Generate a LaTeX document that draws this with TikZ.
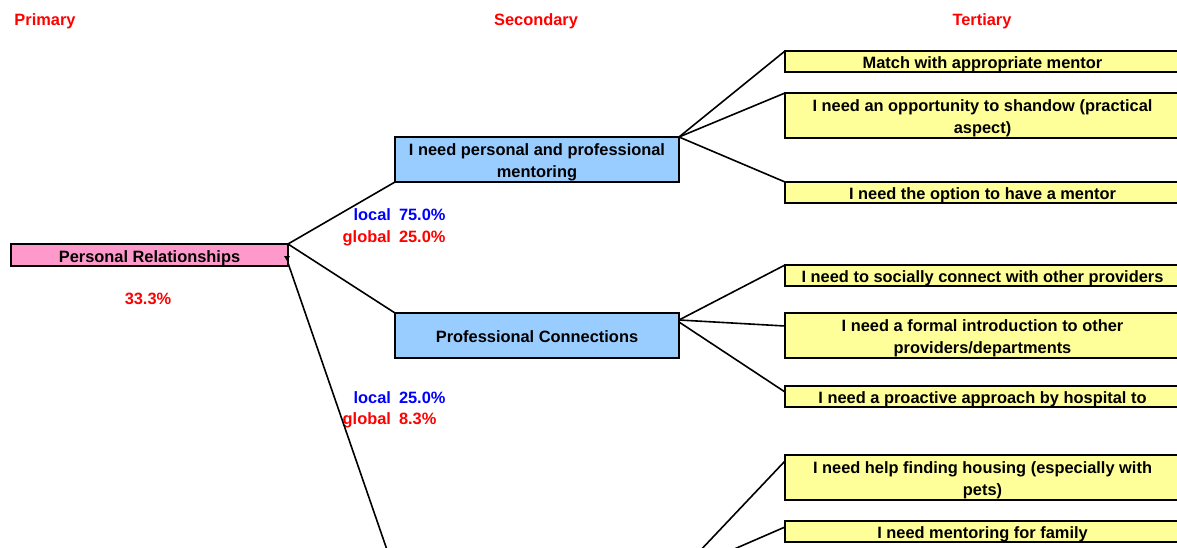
\documentclass[tikz,border=0pt]{standalone}
\usepackage{fontspec}
\setmainfont{Liberation Sans}
\usetikzlibrary{calc}
\definecolor{hdrred}{RGB}{255,0,0}
\definecolor{lblblue}{RGB}{0,0,255}
\definecolor{pinkfill}{RGB}{255,153,204}
\definecolor{bluefill}{RGB}{153,204,255}
\definecolor{yellowfill}{RGB}{255,255,153}
\begin{document}
\begin{tikzpicture}[x=1pt,y=-1pt,
  every node/.style={font=\fontsize{16.4}{22}\selectfont\bfseries, inner sep=0pt, outer sep=0pt},
  boxbase/.style={draw=black, line width=1.8pt, anchor=north west},
  txt/.style={label={[align=center,yshift=-3pt]center:#1}},
  txtb/.style={label={[align=center,yshift=-1pt]center:#1}},
  primbox/.style={boxbase, fill=pinkfill, minimum width=277pt, minimum height=22pt},
  secbox/.style={boxbase, fill=bluefill, minimum width=284pt, minimum height=45pt},
  terbox/.style={boxbase, fill=yellowfill, minimum width=395pt},
  oneline/.style={minimum height=21pt},
  twoline/.style={minimum height=45pt},
  conn/.style={draw=black, line width=1.6pt},
  hdr/.style={text=hdrred, anchor=base},
  loc/.style={text=lblblue},
  glob/.style={text=hdrred}
]
\useasboundingbox (0,0) rectangle (1177,548);
\clip (0,0) rectangle (1177,548);
\fill[white] (0,0) rectangle (1177,548);

% headers
\node[hdr] (h1) at (45,26) {Primary};
\node[hdr] (h2) at (536,26) {Secondary};
\node[hdr] (h3) at (982,26) {Tertiary};

% primary
\node[primbox, txt={Personal Relationships}] (p) at (11,244) {};
\node[glob, anchor=base] (pp) at (148,304) {33.3\%};

% secondary
\node[secbox, txt={I need personal and professional\\mentoring}] (b1) at (395,137) {};
\node[secbox, txtb={Professional Connections}] (b2) at (395,313) {};
\coordinate (b3nw) at (395,573);
\coordinate (b3ne) at (679,573);

% tertiary
\node[terbox, oneline, txt={Match with appropriate mentor}] (y1) at (785,51) {};
\node[terbox, twoline, txt={I need an opportunity to shandow (practical\\aspect)}] (y2) at (785,93) {};
\node[terbox, oneline, txt={I need the option to have a mentor}] (y3) at (785,182) {};
\node[terbox, oneline, txt={I need to socially connect with other providers}] (y4) at (785,265) {};
\node[terbox, twoline, txt={I need a formal introduction to other\\providers/departments}] (y5) at (785,313) {};
\node[terbox, oneline, txt={I need a proactive approach by hospital to}] (y6) at (785,386) {};
\node[terbox, twoline, txt={I need help finding housing (especially with\\pets)}] (y7) at (785,455) {};
\node[terbox, oneline, txt={I need mentoring for family}] (y8) at (785,521) {};

% local / global labels
\node[loc, anchor=base east] (l1a) at (391,220) {local};
\node[loc, anchor=base west] (l1b) at (399,220) {75.0\%};
\node[glob, anchor=base east] (g1a) at (391,242) {global};
\node[glob, anchor=base west] (g1b) at (399,242) {25.0\%};
\node[loc, anchor=base east] (l2a) at (391,403) {local};
\node[loc, anchor=base west] (l2b) at (399,403) {25.0\%};
\node[glob, anchor=base east] (g2a) at (391,424) {global};
\node[glob, anchor=base west] (g2b) at (399,424) {8.3\%};

% connectors primary -> secondary
\draw[conn] (p.north east) -- (b1.south west);
\draw[conn] (p.north east) -- (b2.north west);
\draw[conn] ($(p.south east)+(0,-3)$) -- (b3nw);

% small dropdown mark
\fill[black] (284,256) -- (290,256) -- (287,261) -- cycle;

% connectors secondary -> tertiary
\draw[conn] (b1.north east) -- (y1.north west);
\draw[conn] (b1.north east) -- (y2.north west);
\draw[conn] (b1.north east) -- (y3.north west);
\draw[conn] ($(b2.north east)+(0,7)$) -- (y4.north west);
\draw[conn] ($(b2.north east)+(0,7)$) -- ($(y5.north west)+(0,13)$);
\draw[conn] ($(b2.north east)+(0,9)$) -- ($(y6.north west)+(0,6)$);
\draw[conn] (b3ne) -- ($(y7.north west)+(0,6)$);
\draw[conn] (b3ne) -- ($(y8.north west)+(0,6)$);
\end{tikzpicture}
\end{document}
